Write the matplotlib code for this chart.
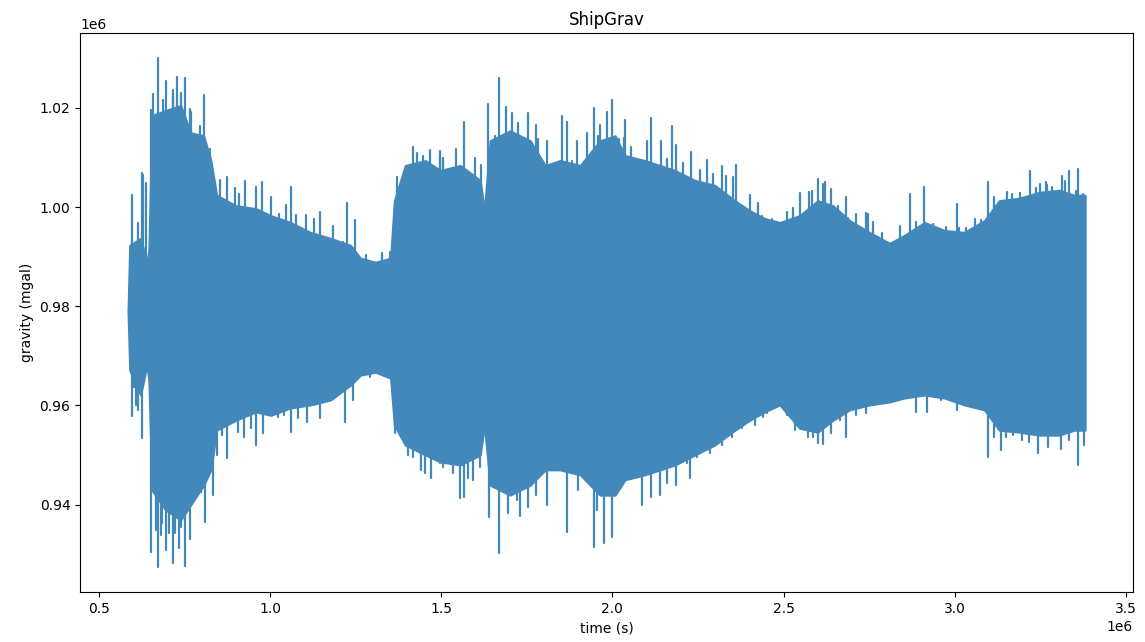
import numpy as np
import matplotlib
matplotlib.use("Agg")
import matplotlib.pyplot as plt

# ship gravity record (time in 1e6 s, gravity in 1e6 mgal)
band_t = [0.585, 0.590, 0.622, 0.640, 0.646, 0.655, 0.695, 0.739, 0.768, 0.806,
          0.827, 0.844, 0.900, 0.958, 1.002, 1.060, 1.118, 1.177, 1.235, 1.264,
          1.308, 1.352, 1.363, 1.395, 1.454, 1.497, 1.556, 1.614, 1.626, 1.643,
          1.701, 1.760, 1.804, 1.847, 1.906, 1.964, 2.008, 2.037, 2.095, 2.139,
          2.183, 2.241, 2.299, 2.358, 2.401, 2.445, 2.489, 2.547, 2.600, 2.644,
          2.693, 2.751, 2.810, 2.853, 2.912, 2.970, 3.028, 3.087, 3.130, 3.189,
          3.247, 3.305, 3.349, 3.381]
band_hi = [0.9790, 0.9923, 0.9937, 0.9889, 0.9913, 1.0185, 1.0195, 1.0205, 1.0150, 1.0144,
           1.0094, 1.0024, 1.0003, 0.9997, 0.9983, 0.9969, 0.9949, 0.9937, 0.9923, 0.9897,
           0.9889, 0.9897, 1.0013, 1.0084, 1.0094, 1.0074, 1.0084, 1.0054, 0.9993, 1.0134,
           1.0154, 1.0134, 1.0084, 1.0094, 1.0084, 1.0134, 1.0144, 1.0104, 1.0094, 1.0084,
           1.0074, 1.0054, 1.0044, 1.0013, 0.9993, 0.9977, 0.9969, 0.9983, 1.0013, 1.0003,
           0.9973, 0.9949, 0.9927, 0.9943, 0.9969, 0.9953, 0.9949, 0.9973, 1.0013, 1.0018,
           1.0030, 1.0034, 1.0024, 1.0024]
band_lo = [0.9790, 0.9671, 0.9621, 0.9681, 0.9651, 0.9429, 0.9389, 0.9369, 0.9399, 0.9439,
           0.9470, 0.9550, 0.9570, 0.9587, 0.9580, 0.9595, 0.9601, 0.9611, 0.9641, 0.9661,
           0.9667, 0.9655, 0.9560, 0.9520, 0.9500, 0.9486, 0.9480, 0.9500, 0.9560, 0.9439,
           0.9419, 0.9439, 0.9470, 0.9470, 0.9460, 0.9419, 0.9419, 0.9450, 0.9460, 0.9470,
           0.9480, 0.9500, 0.9520, 0.9550, 0.9570, 0.9587, 0.9601, 0.9554, 0.9546, 0.9570,
           0.9591, 0.9601, 0.9607, 0.9615, 0.9621, 0.9615, 0.9601, 0.9591, 0.9550, 0.9546,
           0.9540, 0.9540, 0.9550, 0.9550]

# large upward spikes
top_t = [0.596, 0.628, 0.637, 0.652, 0.657, 0.672, 0.695, 0.716, 0.727, 0.751,
         0.765, 0.806, 0.824, 0.873, 0.926, 0.975, 1.060, 1.147, 1.226, 1.249,
         1.369, 1.407, 1.419, 1.468, 1.497, 1.567, 1.637, 1.669, 1.690, 1.707,
         1.754, 1.777, 1.853, 1.868, 1.946, 1.964, 1.984, 1.999, 2.037, 2.113,
         2.142, 2.174, 2.229, 2.276, 2.320, 2.361, 2.401, 2.425, 2.547, 2.600,
         2.620, 2.658, 2.681, 2.746, 2.868, 2.909, 3.008, 3.096, 3.154, 3.221,
         3.271, 3.314, 3.335, 3.361]
top_g = [1.0024, 1.0064, 1.0048, 1.0195, 1.0229, 1.0300, 1.0255, 1.0225, 1.0263, 1.0261,
         1.0197, 1.0227, 1.0118, 1.0060, 1.0052, 1.0050, 1.0040, 0.9991, 1.0009, 0.9975,
         0.9953, 1.0074, 1.0122, 1.0116, 1.0104, 1.0171, 1.0209, 1.0261, 1.0201, 1.0189,
         1.0189, 1.0165, 1.0183, 1.0171, 1.0199, 1.0165, 1.0191, 1.0217, 1.0175, 1.0179,
         1.0134, 1.0163, 1.0112, 1.0096, 1.0082, 1.0084, 1.0024, 1.0009, 1.0028, 1.0056,
         1.0050, 1.0003, 1.0020, 0.9987, 1.0027, 1.0040, 1.0007, 1.0050, 1.0030, 1.0072,
         1.0044, 1.0062, 1.0072, 1.0076]

# smaller upward spikes along the band edge
top2_t = [0.614, 0.625, 0.687, 0.716, 0.739, 0.768, 0.780, 0.795, 0.818, 0.838,
          0.853, 0.897, 0.908, 0.958, 1.002, 1.025, 1.048, 1.075, 1.104, 1.127,
          1.185, 1.212, 1.279, 1.328, 1.349, 1.372, 1.404, 1.430, 1.448, 1.497,
          1.506, 1.544, 1.599, 1.617, 1.658, 1.725, 1.783, 1.809, 1.839, 1.882,
          1.897, 1.926, 1.958, 2.019, 2.034, 2.054, 2.101, 2.159, 2.186, 2.206,
          2.256, 2.294, 2.331, 2.352, 2.436, 2.466, 2.498, 2.509, 2.527, 2.573,
          2.582, 2.614, 2.638, 2.687, 2.713, 2.740, 2.760, 2.789, 2.839, 2.888,
          2.938, 2.976, 3.014, 3.034, 3.058, 3.078, 3.116, 3.128, 3.145, 3.168,
          3.192, 3.238, 3.250, 3.268, 3.285, 3.323, 3.355, 3.375]
top2_g = [0.9967, 1.0068, 1.0217, 1.0237, 1.0231, 1.0191, 1.0144, 1.0163, 1.0114, 1.0050,
          1.0054, 1.0038, 1.0026, 1.0040, 1.0020, 0.9987, 1.0005, 0.9985, 0.9985, 0.9977,
          0.9961, 0.9929, 0.9903, 0.9907, 0.9909, 1.0060, 1.0074, 1.0110, 1.0104, 1.0114,
          1.0100, 1.0118, 1.0100, 1.0084, 1.0144, 1.0169, 1.0138, 1.0134, 1.0084, 1.0094,
          1.0134, 1.0150, 1.0144, 1.0138, 1.0140, 1.0122, 1.0134, 1.0098, 1.0126, 1.0088,
          1.0074, 1.0066, 1.0062, 1.0060, 0.9983, 0.9977, 0.9967, 0.9991, 0.9999, 1.0030,
          1.0032, 1.0046, 1.0036, 0.9979, 0.9987, 0.9989, 0.9969, 0.9947, 0.9961, 0.9969,
          0.9965, 0.9959, 0.9957, 0.9957, 0.9977, 0.9975, 1.0020, 1.0007, 1.0011, 1.0026,
          1.0028, 1.0038, 1.0046, 1.0050, 1.0040, 1.0052, 1.0032, 1.0026]

# large downward spikes
bot_t = [0.596, 0.608, 0.625, 0.652, 0.672, 0.681, 0.695, 0.716, 0.733, 0.751,
         0.765, 0.809, 0.832, 0.844, 0.873, 0.958, 1.060, 1.147, 1.220, 1.442,
         1.471, 1.497, 1.556, 1.567, 1.640, 1.669, 1.731, 1.809, 1.868, 1.946,
         1.976, 1.999, 2.086, 2.139, 2.226, 2.585, 2.614, 2.681, 3.008, 3.096,
         3.136, 3.244, 3.311, 3.361]
bot_g = [0.9578, 0.9601, 0.9534, 0.9305, 0.9275, 0.9339, 0.9309, 0.9282, 0.9313, 0.9277,
         0.9331, 0.9365, 0.9419, 0.9500, 0.9494, 0.9520, 0.9546, 0.9574, 0.9566, 0.9470,
         0.9454, 0.9484, 0.9413, 0.9415, 0.9375, 0.9303, 0.9377, 0.9399, 0.9345, 0.9315,
         0.9323, 0.9335, 0.9399, 0.9419, 0.9454, 0.9536, 0.9522, 0.9536, 0.9591, 0.9496,
         0.9510, 0.9504, 0.9512, 0.9480]

# smaller downward spikes along the band edge
bot2_t = [0.602, 0.614, 0.666, 0.684, 0.704, 0.722, 0.739, 0.760, 0.780, 0.797,
          0.821, 0.859, 0.885, 0.905, 0.923, 0.943, 0.978, 0.999, 1.022, 1.040,
          1.083, 1.107, 1.133, 1.177, 1.200, 1.241, 1.293, 1.328, 1.366, 1.381,
          1.404, 1.419, 1.454, 1.506, 1.535, 1.579, 1.594, 1.614, 1.652, 1.681,
          1.696, 1.722, 1.754, 1.777, 1.839, 1.900, 1.926, 1.955, 2.014, 2.043,
          2.072, 2.113, 2.159, 2.186, 2.218, 2.247, 2.285, 2.320, 2.349, 2.378,
          2.416, 2.451, 2.439, 2.474, 2.509, 2.533, 2.553, 2.571, 2.600, 2.638,
          2.664, 2.713, 2.740, 2.801, 2.888, 2.920, 2.961, 3.052, 3.116, 3.151,
          3.171, 3.198, 3.218, 3.273, 3.335, 3.378]
bot2_g = [0.9637, 0.9591, 0.9349, 0.9363, 0.9343, 0.9343, 0.9355, 0.9393, 0.9435, 0.9425,
          0.9470, 0.9540, 0.9570, 0.9546, 0.9536, 0.9554, 0.9544, 0.9580, 0.9576, 0.9580,
          0.9574, 0.9566, 0.9611, 0.9625, 0.9631, 0.9611, 0.9657, 0.9671, 0.9544, 0.9540,
          0.9500, 0.9496, 0.9464, 0.9476, 0.9464, 0.9454, 0.9450, 0.9476, 0.9435, 0.9429,
          0.9383, 0.9409, 0.9395, 0.9419, 0.9480, 0.9429, 0.9446, 0.9389, 0.9423, 0.9464,
          0.9464, 0.9415, 0.9444, 0.9440, 0.9484, 0.9496, 0.9504, 0.9520, 0.9536, 0.9554,
          0.9560, 0.9585, 0.9576, 0.9597, 0.9580, 0.9550, 0.9554, 0.9536, 0.9524, 0.9544,
          0.9570, 0.9580, 0.9585, 0.9611, 0.9587, 0.9587, 0.9611, 0.9597, 0.9536, 0.9536,
          0.9540, 0.9530, 0.9526, 0.9516, 0.9530, 0.9520]

color = '#4288bb'
lw = 1.6

fig, ax = plt.subplots(figsize=(11.45, 6.42), dpi=100)
fig.subplots_adjust(left=0.070, right=0.9895, top=0.9486, bottom=0.078)

bt = np.array(band_t) * 1e6
ax.fill_between(bt, np.array(band_lo) * 1e6, np.array(band_hi) * 1e6,
                color=color, linewidth=1.5, edgecolor=color)
for ts, gs in [(top_t, top_g), (top2_t, top2_g), (bot_t, bot_g), (bot2_t, bot2_g)]:
    ax.vlines(np.array(ts) * 1e6, 0.98e6, np.array(gs) * 1e6,
              color=color, linewidth=lw, capstyle='round')

ax.set_title("ShipGrav")
ax.set_xlabel("time (s)")
ax.set_ylabel("gravity (mgal)")

fig.savefig("out.png", dpi=100)
